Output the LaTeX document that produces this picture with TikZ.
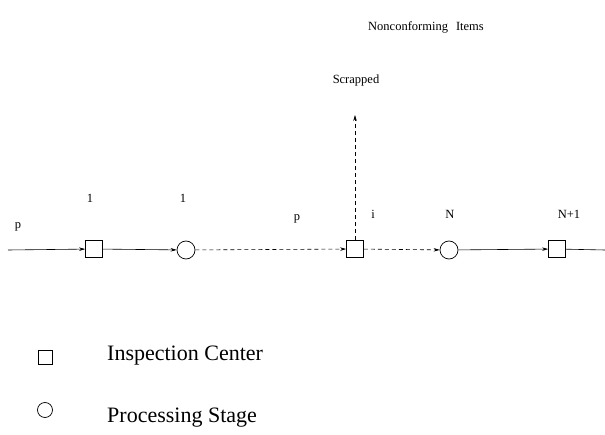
\documentclass[tikz,border=0pt]{standalone}
\usepackage{fontspec}
\setmainfont{Liberation Serif}
\usetikzlibrary{arrows.meta}
\begin{document}
\begin{tikzpicture}[x=1pt,y=-1pt,
  insp/.style={draw,thick=false,line width=0.7pt,minimum size=17pt,inner sep=0pt,fill=white},
  proc/.style={draw,circle,line width=0.7pt,minimum size=18pt,inner sep=0pt,fill=white},
  flow/.style={line width=0.6pt,-{Stealth[length=6pt,width=3.5pt]}},
  dflow/.style={flow,dash pattern=on 4pt off 3pt},
  lbl/.style={font=\fontsize{12.5}{14}\selectfont,inner sep=0pt},
  leg/.style={font=\fontsize{22}{24}\selectfont,inner sep=0pt,anchor=west}]
\useasboundingbox (0,0) rectangle (605,435);
\coordinate (in) at (8,250);
\coordinate (out) at (605,250);
\coordinate (scr) at (355,115);
\node[insp] (s1) at (94,249) {};
\node[proc] (c1) at (186,250) {};
\node[insp] (si) at (355,249) {};
\node[proc] (cN) at (449,250) {};
\node[insp] (sN) at (557,249) {};
\draw[flow] (in) -- (s1);
\draw[flow] (s1) -- (c1);
\draw[dflow] (c1) -- (si);
\draw[dflow] (si) -- (cN);
\draw[flow] (cN) -- (sN);
\draw[line width=0.6pt] (sN) -- (out);
\draw[dflow] (si) -- (scr);
\node[lbl] (lp) at (18,227) {p};
\node[lbl] (l1) at (90,198) {1};
\node[lbl] (l1b) at (183,198) {1};
\node[lbl] (lp2) at (297,219) {p};
\node[lbl] (li) at (373,214) {i};
\node[lbl] (lN) at (450,214) {N};
\node[lbl] (lN1) at (569,214) {N+1};
\node[lbl] (nc) at (426,27) {Nonconforming\hspace{8pt}Items};
\node[lbl] (sc) at (356,80) {Scrapped};
\node[draw,line width=0.7pt,minimum size=14pt,inner sep=0pt] (legs) at (45,357) {};
\node[draw,circle,line width=0.7pt,minimum size=15pt,inner sep=0pt] (legc) at (45,410) {};
\node[leg] (lt1) at (107,356) {Inspection Center};
\node[leg] (lt2) at (107,418) {Processing Stage};
\end{tikzpicture}
\end{document}
